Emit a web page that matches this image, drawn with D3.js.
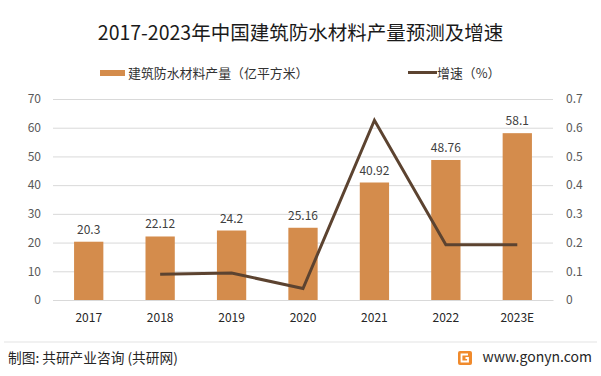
<!DOCTYPE html>
<html>
<head>
<meta charset="utf-8">
<script src="https://cdn.jsdelivr.net/npm/d3@7"></script>
<style>
  body { margin: 0; background: #fff; }
  text { font-family: "Noto Sans CJK SC", "DejaVu Sans", sans-serif; }
</style>
</head>
<body>
<div id="chart"></div>
<script>
const years = ["2017", "2018", "2019", "2020", "2021", "2022", "2023E"];
const output = [20.3, 22.12, 24.2, 25.16, 40.92, 48.76, 58.1];
const growth = [null, 0.09, 0.094, 0.04, 0.626, 0.192, 0.192];
const leftTicks = [0, 10, 20, 30, 40, 50, 60, 70];
const rightTicks = [0, 0.1, 0.2, 0.3, 0.4, 0.5, 0.6, 0.7];

const W = 601, H = 376;
const barColor = "#d48c4c";
const lineColor = "#5c4330";

const svg = d3.select("#chart").append("svg")
  .attr("width", W)
  .attr("height", H);

// plot area
const plot = { left: 53, right: 553, top: 99, bottom: 300 };

const x = d3.scaleBand()
  .domain(years)
  .range([plot.left, plot.right])
  .paddingInner(0.59)
  .paddingOuter(0.295);

const y = d3.scaleLinear().domain([0, 70]).range([plot.bottom, plot.top]);
const y2 = d3.scaleLinear().domain([0, 0.7]).range([plot.bottom, plot.top]);

// title
svg.append("text")
  .attr("x", W / 2).attr("y", 40)
  .attr("text-anchor", "middle")
  .attr("font-size", 19.5)
  .attr("fill", "#1a1a1a")
  .text("2017-2023年中国建筑防水材料产量预测及增速");

// legend
svg.append("rect").attr("x", 100).attr("y", 70).attr("width", 25).attr("height", 6).attr("fill", barColor);
svg.append("text").attr("x", 128).attr("y", 77.5).attr("font-size", 12.9).attr("fill", "#333")
  .text("建筑防水材料产量（亿平方米）");
svg.append("line").attr("x1", 408).attr("x2", 437).attr("y1", 72.5).attr("y2", 72.5)
  .attr("stroke", lineColor).attr("stroke-width", 3);
svg.append("text").attr("x", 437).attr("y", 77.5).attr("font-size", 12.9).attr("fill", "#333")
  .text("增速（%）");

// grid + axes
const gl = svg.append("g")
  .attr("transform", `translate(${plot.left},0)`)
  .call(d3.axisLeft(y).tickValues(leftTicks).tickSize(-(plot.right - plot.left)).tickPadding(12));
gl.select(".domain").remove();
gl.selectAll(".tick line").attr("stroke", "#d9d9d9");
gl.selectAll(".tick text").attr("font-size", 12).attr("fill", "#595959");

const gr = svg.append("g")
  .attr("transform", `translate(${plot.right},0)`)
  .call(d3.axisRight(y2).tickValues(rightTicks).tickFormat(d => d === 0 ? "0" : d3.format(".1f")(d)).tickSize(0).tickPadding(13));
gr.select(".domain").remove();
gr.selectAll(".tick text").attr("font-size", 12).attr("fill", "#595959");

const gx = svg.append("g")
  .attr("transform", `translate(0,${plot.bottom})`)
  .call(d3.axisBottom(x).tickSize(0).tickPadding(13));
gx.select(".domain").attr("stroke", "#d9d9d9");
gx.selectAll(".tick text").attr("font-size", 12).attr("fill", "#262626");

// bars
svg.selectAll(".bar")
  .data(output)
  .enter()
  .append("rect")
    .attr("class", "bar")
    .attr("x", (d, i) => x(years[i]))
    .attr("y", d => y(d))
    .attr("width", x.bandwidth())
    .attr("height", d => y(0) - y(d))
    .attr("fill", barColor);

svg.selectAll(".lbl")
  .data(output)
  .enter()
  .append("text")
    .attr("class", "lbl")
    .attr("x", (d, i) => x(years[i]) + x.bandwidth() / 2)
    .attr("y", d => y(d) - 8)
    .attr("text-anchor", "middle")
    .attr("font-size", 12)
    .attr("fill", "#404040")
    .text(d => d);

// growth line
const line = d3.line()
  .defined(d => d != null)
  .x((d, i) => x(years[i]) + x.bandwidth() / 2)
  .y(d => y2(d));

svg.append("path")
  .datum(growth)
  .attr("d", line)
  .attr("fill", "none")
  .attr("stroke", lineColor)
  .attr("stroke-width", 3)
  .attr("stroke-linejoin", "miter");

// footer
svg.append("line").attr("x1", 4).attr("x2", 597).attr("y1", 342).attr("y2", 342)
  .attr("stroke", "#e3e3e3");
svg.append("text").attr("x", 8).attr("y", 363).attr("font-size", 13.7).attr("fill", "#262626")
  .text("制图: 共研产业咨询 (共研网)");

const logo = svg.append("g").attr("transform", "translate(458,351)");
logo.append("rect").attr("width", 14).attr("height", 14).attr("rx", 2).attr("fill", "#f08a2c");
logo.append("path").attr("d", "M10,3.5 H3.5 V10.5 H10 V7 H7.5").attr("fill", "none").attr("stroke", "#fff").attr("stroke-width", 1.8);

svg.append("text").attr("x", 592).attr("y", 362).attr("text-anchor", "end")
  .attr("font-size", 14).attr("fill", "#262626")
  .text("www.gonyn.com");
</script>
</body>
</html>
